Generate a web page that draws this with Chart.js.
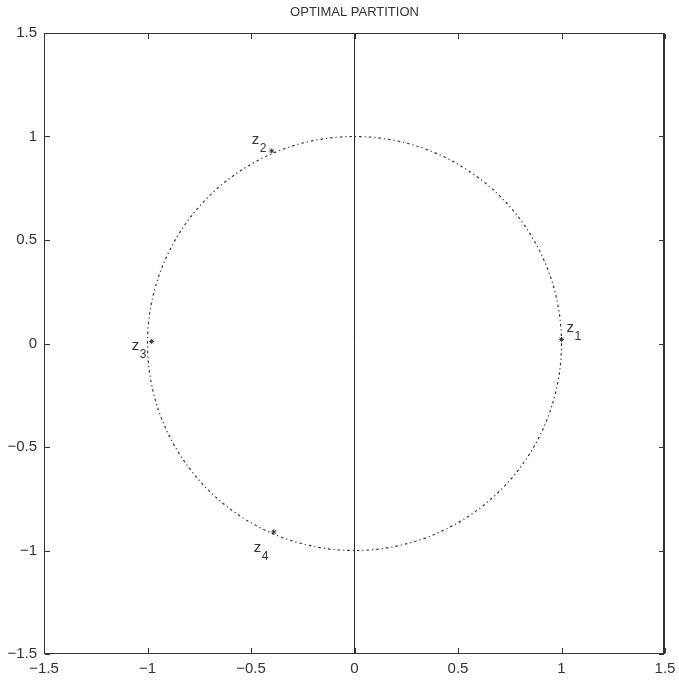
<!DOCTYPE html>
<html>
<head>
<meta charset="utf-8">
<title>Optimal partition</title>
<script src="https://cdn.jsdelivr.net/npm/chart.js@4.4.0/dist/chart.umd.min.js"></script>
<style>
  html, body { margin: 0; padding: 0; background: #fff; overflow: hidden; }
  #wrap { width: 679px; height: 682px; }
</style>
</head>
<body>
<div id="wrap"><canvas id="partitionChart"></canvas></div>
<script>
// axis ticks
const xTicks = [-1.5, -1, -0.5, 0, 0.5, 1, 1.5];
const yTicks = [-1.5, -1, -0.5, 0, 0.5, 1, 1.5];

// the points z1..z4
const pointNames = ['1', '2', '3', '4'];
const pointX = [1.0, -0.40, -0.98, -0.39];
const pointY = [0.02, 0.93, 0.01, -0.91];

// partition line (x = 0)
const lineX = [0, 0];
const lineY = [-1.5, 1.5];

// unit circle
const circleCenter = [0, 0];
const circleRadius = 1;

const titleText = 'OPTIMAL PARTITION';
const ink = '#333';
const fontFamily = '"Liberation Sans", Arial, Helvetica, sans-serif';

function fmt(v) {
    return String(v).replace('-', '\u2212');
}

// dotted circle, drawn under the datasets
const circlePlugin = {
    id: 'circle',
    beforeDatasetsDraw(chart) {
        const { ctx, chartArea, scales: { x, y } } = chart;
        const cx = x.getPixelForValue(circleCenter[0]);
        const cy = y.getPixelForValue(circleCenter[1]);
        const rx = x.getPixelForValue(circleCenter[0] + circleRadius) - cx;
        const ry = cy - y.getPixelForValue(circleCenter[1] + circleRadius);
        ctx.save();
        ctx.beginPath();
        ctx.rect(chartArea.left, chartArea.top, chartArea.width, chartArea.height);
        ctx.clip();
        ctx.beginPath();
        ctx.setLineDash([2.5, 3, 1.2, 3]);
        ctx.strokeStyle = '#333';
        ctx.lineWidth = 1.2;
        ctx.ellipse(cx, cy, rx, ry, 0, 0, Math.PI * 2);
        ctx.stroke();
        ctx.restore();
    }
};

// box round the plot with inward tick marks, like a matlab axes, plus the title
const boxPlugin = {
    id: 'box',
    afterDraw(chart) {
        const { ctx, chartArea: a, scales: { x, y } } = chart;
        const len = 5;
        const l = Math.round(a.left), r = Math.round(a.right) - 1;
        const t = Math.round(a.top), b = Math.round(a.bottom) - 1;
        ctx.save();
        ctx.fillStyle = ink;
        ctx.fillRect(l, t, r - l + 1, 1);
        ctx.fillRect(l, b, r - l + 1, 1);
        ctx.fillRect(l, t, 1, b - t + 1);
        ctx.fillRect(r - 1, t, 2, b - t + 1);
        xTicks.forEach(v => {
            const px = Math.round(x.getPixelForValue(v));
            ctx.fillRect(px, b - len, 1, len);
            ctx.fillRect(px, t + 1, 1, len);
        });
        yTicks.forEach(v => {
            const py = Math.round(y.getPixelForValue(v));
            ctx.fillRect(l + 1, py, len, 1);
            ctx.fillRect(r - len, py, len, 1);
        });

        ctx.font = '13px ' + fontFamily;
        ctx.textAlign = 'center';
        ctx.textBaseline = 'middle';
        ctx.fillText(titleText, (a.left + a.right) / 2, 12);
        ctx.restore();
    }
};

// z labels with subscripts, offsets in pixels from each point
const labelOffsets = [[5, -7], [-20, -7], [-20, 9], [-20, 20]];
const labelPlugin = {
    id: 'zLabels',
    afterDatasetsDraw(chart) {
        const { ctx, scales: { x, y } } = chart;
        ctx.save();
        ctx.fillStyle = ink;
        ctx.textBaseline = 'alphabetic';
        ctx.textAlign = 'left';
        pointNames.forEach((n, i) => {
            const px = x.getPixelForValue(pointX[i]) + labelOffsets[i][0];
            const py = y.getPixelForValue(pointY[i]) + labelOffsets[i][1];
            ctx.font = '15px ' + fontFamily;
            ctx.fillText('z', px, py);
            const w = ctx.measureText('z').width;
            ctx.font = '12px ' + fontFamily;
            ctx.fillText(n, px + w + 0.5, py + 8);
        });
        ctx.restore();
    }
};

const ctx = document.getElementById('partitionChart').getContext('2d');
new Chart(ctx, {
    type: 'scatter',
    data: {
        datasets: [
            {
                label: 'partition',
                data: lineX.map((v, i) => ({ x: v, y: lineY[i] })),
                showLine: true,
                borderColor: '#2a2a2a',
                borderWidth: 1,
                pointRadius: 0
            },
            {
                label: 'z',
                data: pointX.map((v, i) => ({ x: v, y: pointY[i] })),
                pointStyle: 'star',
                pointRadius: 2.5,
                borderColor: ink,
                backgroundColor: ink,
                borderWidth: 1
            }
        ]
    },
    options: {
        responsive: true,
        maintainAspectRatio: false,
        animation: false,
        layout: { padding: { left: 0, right: 14, top: 33, bottom: 0 } },
        plugins: {
            legend: { display: false },
            tooltip: { enabled: false },
            title: { display: false }
        },
        scales: {
            x: {
                type: 'linear',
                min: -1.5,
                max: 1.5,
                grid: { display: false, drawTicks: false },
                border: { display: false },
                afterBuildTicks: s => { s.ticks = xTicks.map(v => ({ value: v })); },
                afterFit: s => { s.height = 28; s.paddingLeft = 0; s.paddingRight = 0; },
                ticks: {
                    color: ink,
                    padding: 6,
                    maxRotation: 0,
                    font: { family: fontFamily, size: 15 },
                    callback: v => fmt(v)
                }
            },
            y: {
                type: 'linear',
                min: -1.5,
                max: 1.5,
                grid: { display: false, drawTicks: false },
                border: { display: false },
                afterBuildTicks: s => { s.ticks = yTicks.map(v => ({ value: v })); },
                afterFit: s => { s.width = 44; s.paddingTop = 0; s.paddingBottom = 0; },
                ticks: {
                    color: ink,
                    padding: 7,
                    font: { family: fontFamily, size: 15 },
                    callback: v => fmt(v)
                }
            }
        }
    },
    plugins: [circlePlugin, boxPlugin, labelPlugin]
});
</script>
</body>
</html>
